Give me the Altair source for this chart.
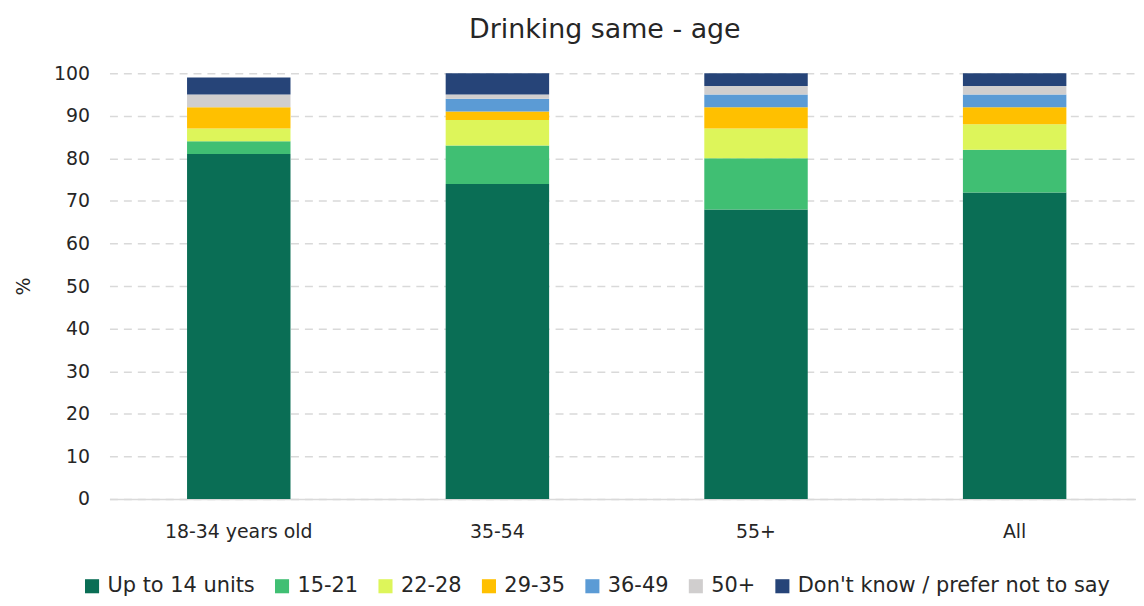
import altair as alt
import pandas as pd

groups = ["18-34 years old", "35-54", "55+", "All"]
series = ["Up to 14 units", "15-21", "22-28", "29-35", "36-49", "50+", "Don't know / prefer not to say"]
colors = ["#0A6E55", "#40BF73", "#DDF55A", "#FFC000", "#5B9BD5", "#D0CECE", "#264478"]

v_upto14 = [81, 74, 68, 72]
v_15_21 = [3, 9, 12, 10]
v_22_28 = [3, 6, 7, 6]
v_29_35 = [5, 2, 5, 4]
v_36_49 = [0, 3, 3, 3]
v_50p = [3, 1, 2, 2]
v_dk = [4, 5, 3, 3]

vals = [v_upto14, v_15_21, v_22_28, v_29_35, v_36_49, v_50p, v_dk]
rows = []
for si, s in enumerate(series):
    for gi, g in enumerate(groups):
        rows.append({"group": g, "series": s, "value": vals[si][gi], "idx": si})
df = pd.DataFrame(rows)

FONT = "DejaVu Sans"

chart = alt.Chart(df).mark_bar(size=104).encode(
    x=alt.X("group:N", sort=groups, title=None,
            scale=alt.Scale(range=[0, 1040], paddingInner=0, paddingOuter=0),
            axis=alt.Axis(labelAngle=0, ticks=False, domainColor="#D9D9D9", domainWidth=1.5,
                          labelFontSize=19, labelColor="#262626", labelFont=FONT, labelPadding=24)),
    y=alt.Y("value:Q", title="%", scale=alt.Scale(domain=[0, 100]),
            axis=alt.Axis(values=list(range(0, 101, 10)), ticks=False, domain=False,
                          gridDash=[8, 6], gridColor="#D9D9D9", gridWidth=1.5,
                          labelFontSize=19, labelColor="#262626", labelFont=FONT, labelPadding=20,
                          titleFontSize=19, titleFont=FONT, titleFontWeight="normal",
                          titleColor="#262626", titlePadding=20)),
    color=alt.Color("series:N", sort=series,
                    scale=alt.Scale(domain=series, range=colors),
                    legend=alt.Legend(title=None, orient="none", direction="horizontal",
                                      legendX=-28, legendY=505,
                                      symbolType="square", symbolSize=200, symbolStrokeWidth=0,
                                      labelFontSize=21, labelFont=FONT, labelColor="#262626",
                                      labelLimit=500, columnPadding=16, labelOffset=5)),
    order=alt.Order("idx:Q", sort="ascending"),
).properties(
    width=1032, height=428,
    title=alt.TitleParams("Drinking same - age", fontSize=27, font=FONT, fontWeight="normal",
                          color="#262626", offset=20, dx=-18),
    autosize=alt.AutoSizeParams(type="none"),
    padding={"left": 102, "top": 64, "right": 0, "bottom": 98},
).configure_view(stroke=None)

chart.save("out.html", embed_options={"renderer": "svg", "actions": False})
